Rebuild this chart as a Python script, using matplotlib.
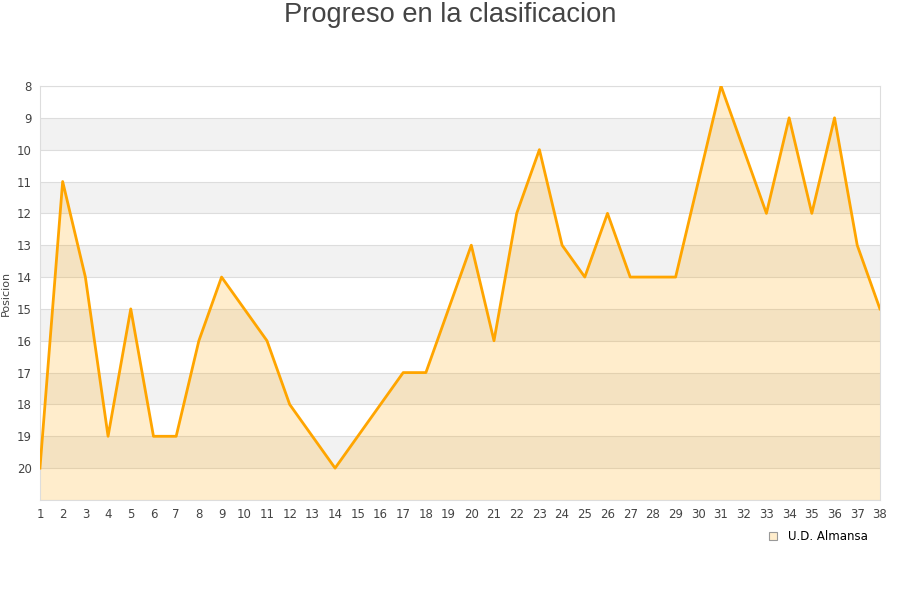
import matplotlib
matplotlib.use("Agg")
from matplotlib import pyplot as plt
from matplotlib.lines import Line2D

jornadas = list(range(1, 39))
posicion = [20, 11, 14, 19, 15, 19, 19, 16, 14, 15, 16, 18, 19, 20, 19, 18, 17, 17, 15, 13,
            16, 12, 10, 13, 14, 12, 14, 14, 14, 11, 8, 10, 12, 9, 12, 9, 13, 15]
equipo = "U.D. Almansa"

fig = plt.figure(figsize=(9, 6), dpi=100)
ax = fig.add_axes([0.0444, 0.1667, 0.9333, 0.69])

# franjas alternas
for y in range(8, 21):
    if y % 2 == 1:
        ax.axhspan(y, y + 1, color="#f2f2f2", zorder=0, lw=0)
for y in range(8, 22):
    ax.axhline(y, color="#dddddd", lw=0.8, zorder=1)

ax.fill_between(jornadas, posicion, 21, color="#ffa500", alpha=0.2, lw=0, zorder=2)
ax.plot(jornadas, posicion, color="#ffa500", lw=2, zorder=3)

ax.set_xlim(1, 38)
ax.set_ylim(21, 8)
ax.set_xticks(jornadas)
ax.set_yticks(range(8, 21))
ax.tick_params(length=0, labelsize=8.5, colors="#444444", pad=6)
for s in ax.spines.values():
    s.set_color("#dddddd")

ax.set_ylabel("Posicion", fontsize=8, color="#444444")
ax.yaxis.set_label_coords(11 / 900, 0.5, transform=ax.transAxes)
ax.yaxis.set_label_coords(11 / 900, (600 - 293) / 600, transform=fig.transFigure)
fig.suptitle("Progreso en la clasificacion", fontsize=19.6, color="#444444", y=0.997,
             family="Liberation Sans")

handle = Line2D([], [], marker="s", ls="none", markersize=6,
                markerfacecolor="#ffedcc", markeredgecolor="#999999", markeredgewidth=0.8)
fig.legend([handle], [equipo], loc="center", bbox_to_anchor=(0.905, 0.105),
           frameon=False, fontsize=8.5, handletextpad=0.3)

fig.savefig("out.png", dpi=100)
